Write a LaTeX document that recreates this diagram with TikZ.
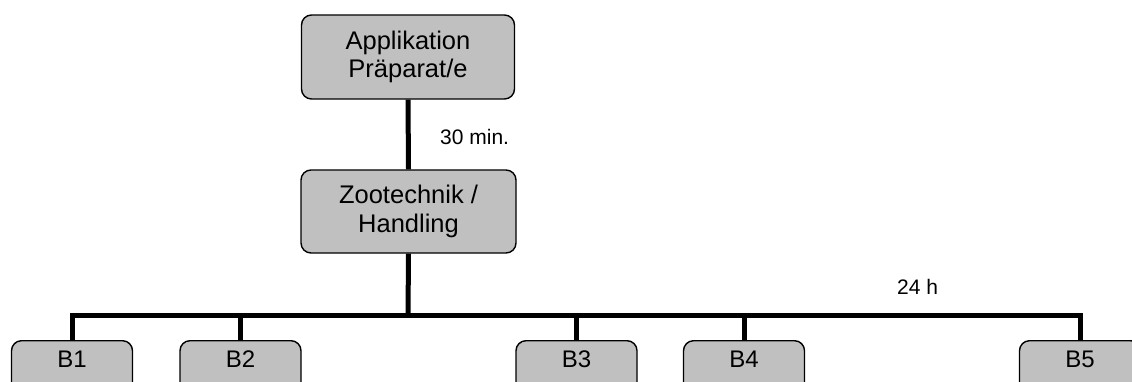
\documentclass[tikz,border=0pt]{standalone}
\usepackage{fontspec}
\setmainfont{Liberation Sans}
\definecolor{boxgray}{RGB}{192,192,192}
\begin{document}
\begin{tikzpicture}[x=1pt,y=-1pt,
  box/.style={draw=black, line width=1.4pt, fill=boxgray, rounded corners=10pt,
    align=center, inner sep=0pt, font=\fontsize{25.5}{28.5}\selectfont},
  bbox/.style={draw=black, line width=1.4pt, fill=boxgray, rounded corners=10pt,
    anchor=north, minimum width=121pt, inner xsep=0pt, inner ysep=10pt,
    text height=17pt, text depth=50pt, font=\fontsize{24}{28}\selectfont},
  conn/.style={line width=5pt},
  lbl/.style={anchor=west, inner sep=0pt, font=\fontsize{21}{24}\selectfont}]
\useasboundingbox (0,0) rectangle (1132,381);
\clip (0,0) rectangle (1132,381);
\node[box, minimum width=213pt, minimum height=84pt] (top) at (408,57) {Applikation\\Präparat/e};
\node[box, minimum width=215pt, minimum height=83pt] (mid) at (408.5,211.5) {Zootechnik /\\Handling};
\node[bbox] (b1) at (72,340) {B1};
\node[bbox] (b2) at (240.5,340) {B2};
\node[bbox] (b3) at (576.5,340) {B3};
\node[bbox] (b4) at (744,340) {B4};
\node[bbox] (b5) at (1080,340) {B5};
\coordinate (bar) at (408,315);
\draw[conn] (top.south) -- (mid.north);
\draw[conn] (mid.south) -- (bar);
\draw[conn] (b1.north) -- (b1.north |- bar) -- (b5.north |- bar) -- (b5.north);
\draw[conn] (b2.north) -- (b2.north |- bar);
\draw[conn] (b3.north) -- (b3.north |- bar);
\draw[conn] (b4.north) -- (b4.north |- bar);
\node[lbl] (l30) at (440,137) {30 min.};
\node[lbl] (l24) at (897,287) {24 h};
\end{tikzpicture}
\end{document}
